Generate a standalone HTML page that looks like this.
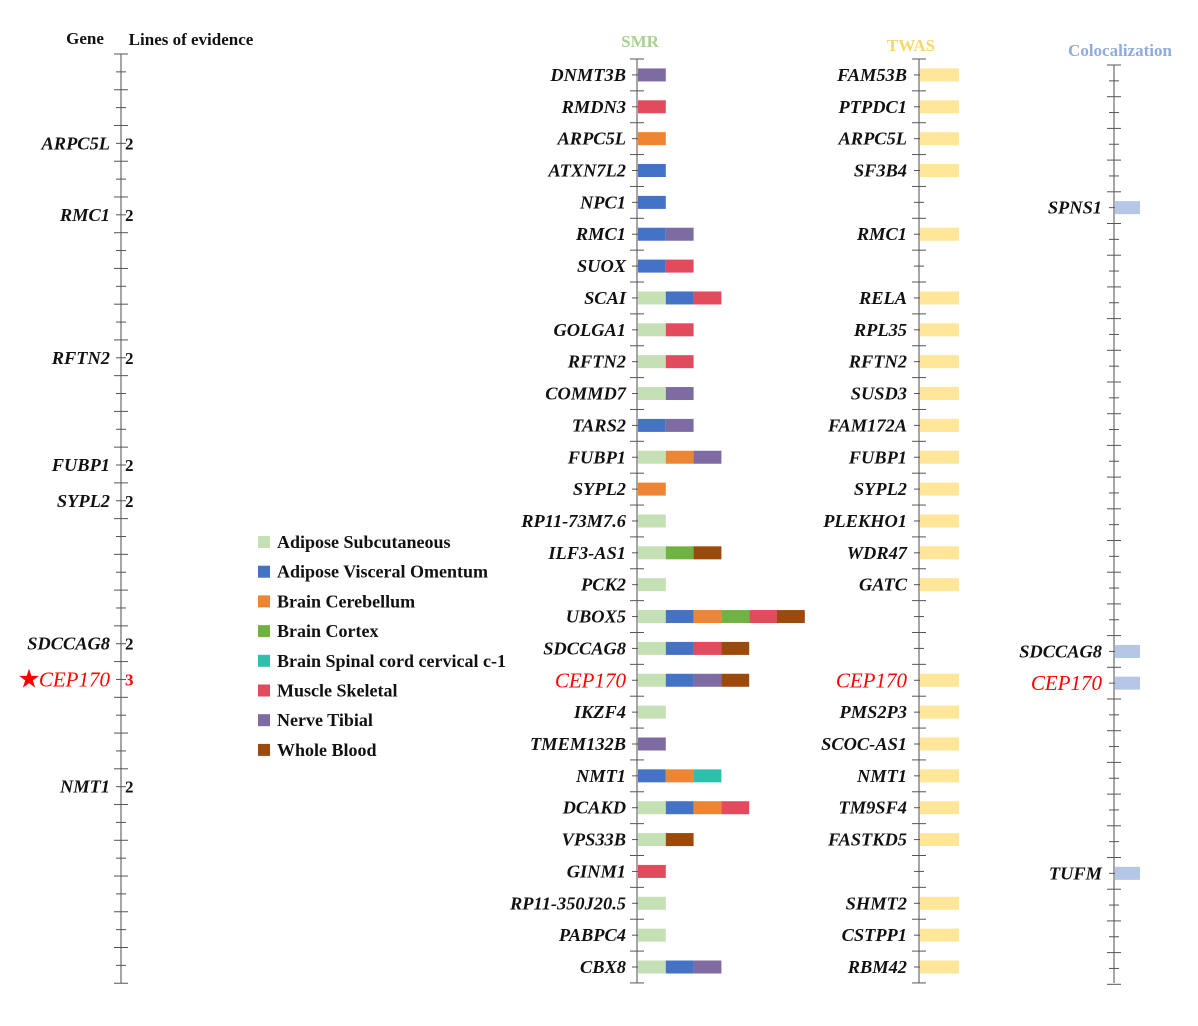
<!DOCTYPE html>
<html><head><meta charset="utf-8"><style>
html,body{margin:0;padding:0;background:#fff;}
svg{display:block;}
.g{font-family:"Liberation Serif",serif;font-weight:bold;font-style:italic;font-size:18.4px;fill:#111;}
.r{font-family:"Liberation Serif",serif;font-style:italic;font-size:21px;fill:#f00;}
.h{font-family:"Liberation Serif",serif;font-weight:bold;font-size:17px;}
.l{font-family:"Liberation Serif",serif;font-weight:bold;font-size:18px;fill:#111;}
</style></head><body>
<svg id="chart" width="1198" height="1026" xmlns="http://www.w3.org/2000/svg"></svg>
<script>
const tissues=["Adipose Subcutaneous","Adipose Visceral Omentum","Brain Cerebellum","Brain Cortex","Brain Spinal cord cervical c-1","Muscle Skeletal","Nerve Tibial","Whole Blood"];
const tissueColors=["#c5e0b4","#4472c4","#ed8535","#70b343","#2fbfad","#e24a5e","#7e6ba2","#9c4a0c"];
const smrGenes=["DNMT3B","RMDN3","ARPC5L","ATXN7L2","NPC1","RMC1","SUOX","SCAI","GOLGA1","RFTN2","COMMD7","TARS2","FUBP1","SYPL2","RP11-73M7.6","ILF3-AS1","PCK2","UBOX5","SDCCAG8","CEP170","IKZF4","TMEM132B","NMT1","DCAKD","VPS33B","GINM1","RP11-350J20.5","PABPC4","CBX8"];
const smrTissues=[[6],[5],[2],[1],[1],[1,6],[1,5],[0,1,5],[0,5],[0,5],[0,6],[1,6],[0,2,6],[2],[0],[0,3,7],[0],[0,1,2,3,5,7],[0,1,5,7],[0,1,6,7],[0],[6],[1,2,4],[0,1,2,5],[0,7],[5],[0],[0],[0,1,6]];
const twasGenes=["FAM53B","PTPDC1","ARPC5L","SF3B4","","RMC1","","RELA","RPL35","RFTN2","SUSD3","FAM172A","FUBP1","SYPL2","PLEKHO1","WDR47","GATC","","","CEP170","PMS2P3","SCOC-AS1","NMT1","TM9SF4","FASTKD5","","SHMT2","CSTPP1","RBM42"];
const colocGenes=["SPNS1","SDCCAG8","CEP170","TUFM"];
const colocRows=[4,18,19,25];
const evidenceGenes=["ARPC5L","RMC1","RFTN2","FUBP1","SYPL2","SDCCAG8","CEP170","NMT1"];
const evidenceCounts=[2,2,2,2,2,2,3,2];
const evidencePos=[5,9,17,23,25,33,35,41];
const highlight="CEP170";

const NS="http://www.w3.org/2000/svg";
const svg=document.getElementById('chart');
function mk(tag,attrs,txt){const e=document.createElementNS(NS,tag);for(const k in attrs)e.setAttribute(k,attrs[k]);if(txt!==undefined)e.textContent=txt;svg.appendChild(e);return e;}

const smrY=i=>59+15.93*(2*i+1);
const colY=i=>65+15.85*(2*i+1);
const leftY=i=>54+17.87*i;

function axis(x,y0,y1,step,name){
  const a=mk('line',{x1:x,y1:y0,x2:x,y2:y1,stroke:'#777','stroke-width':1.3});
  
  
  let n=Math.round((y1-y0)/step);
  for(let k=0;k<=n;k++){
    const y=y0+k*step;const big=(k%2===0);
    const t=mk('line',{x1:x-(big?7:5),y1:y,x2:x+(big?7:5),y2:y,stroke:'#555','stroke-width':1});
    
    
  }
}
axis(121,54,983,17.87,'evidence-axis');
axis(637,59,983,15.93,'smr-axis');
axis(919,59,983,15.93,'twas-axis');
axis(1114,65,983,15.85,'coloc-axis');

let e;
e=mk('text',{x:85,y:44,'text-anchor':'middle',class:'h',fill:'#111'},'Gene');
e=mk('text',{x:191,y:45,'text-anchor':'middle',class:'h',fill:'#111'},'Lines of evidence');
e=mk('text',{x:640,y:47,'text-anchor':'middle',class:'h',fill:'#a9d18e','font-size':'18'},'SMR');
e=mk('text',{x:911,y:51,'text-anchor':'middle',class:'h',fill:'#f8d76b','font-size':'18'},'TWAS');
e=mk('text',{x:1120,y:56,'text-anchor':'middle',class:'h',fill:'#8faadc','font-size':'19.5'},'Colocalization');

function label(x,y,g,anchor){
  const red=g===highlight;
  const t=mk('text',{x:x,y:y+(red?7:6),'text-anchor':anchor||'end',class:red?'r':'g'},g);
  
  
  return t;
}
evidenceGenes.forEach((g,i)=>{
  const y=leftY(evidencePos[i]);
  label(110,y,g);
  const red=g===highlight;
  const n=mk('text',{x:125,y:y+6,class:'h',fill:red?'#f00':'#111','font-weight':red?'normal':'bold','font-size':'17'},String(evidenceCounts[i]));
  
  
  if(red){const s=mk('text',{x:29,y:y+8,'text-anchor':'middle',fill:'#f00','font-size':'26','font-family':'DejaVu Sans, sans-serif'},'★');
    
    }
});
const segW=27.8,barH=13;
smrGenes.forEach((g,i)=>{
  const y=smrY(i);
  label(626,y,g);
  smrTissues[i].forEach((t,j)=>{
    const r=mk('rect',{x:638+j*segW,y:y-barH/2,width:segW,height:barH,fill:tissueColors[t]});
    
    
  });
});
twasGenes.forEach((g,i)=>{
  if(!g)return;
  const y=smrY(i);
  label(907,y,g);
  const r=mk('rect',{x:920,y:y-barH/2,width:39,height:barH,fill:'#ffe699'});
  
  
});
colocGenes.forEach((g,i)=>{
  const y=colY(colocRows[i]);
  label(1102,y,g);
  const r=mk('rect',{x:1115,y:y-barH/2,width:25,height:barH,fill:'#b4c7e7'});
  
  
});
tissues.forEach((t,i)=>{
  const y=542+29.7*i;
  const s=mk('rect',{x:258,y:y-6,width:12,height:12,fill:tissueColors[i]});
  
  
  const tx=mk('text',{x:277,y:y+6,class:'l'},t);
  
  
});
</script>
</body></html>
